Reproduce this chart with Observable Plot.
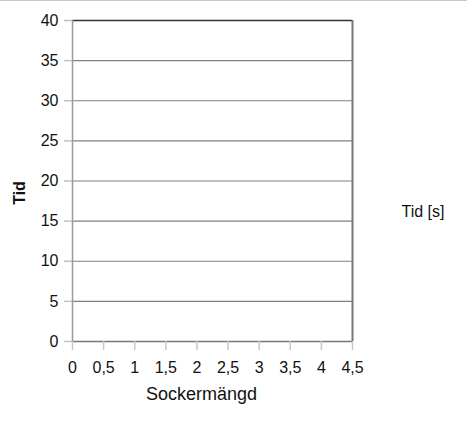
<!DOCTYPE html>
<html>
<head>
<meta charset="utf-8">
<script src="https://cdn.jsdelivr.net/npm/d3@7"></script>
<script src="https://cdn.jsdelivr.net/npm/@observablehq/plot@0.6"></script>
<style>
  html, body { margin: 0; padding: 0; background: #fff; }
  #wrap { position: relative; width: 467px; height: 422px; }
  #topline { position: absolute; left: 0; top: 0; width: 467px; height: 1px; background: #c8c8c8; }
  svg { font-family: "Liberation Sans", Arial, sans-serif; }
</style>
</head>
<body>
<div id="wrap"><div id="topline"></div></div>
<script>
const xTicks = [0, 0.5, 1, 1.5, 2, 2.5, 3, 3.5, 4, 4.5];
const yTicks = [0, 5, 10, 15, 20, 25, 30, 35, 40];
const xLabel = "Sockermängd";
const yLabel = "Tid";
const seriesName = "Tid [s]";
const seriesValues = []; // empty series

const fmt = d => String(d).replace(".", ",");

const chart = Plot.plot({
  width: 467,
  height: 422,
  marginLeft: 72,
  marginRight: 115,
  marginTop: 20,
  marginBottom: 81,
  style: { fontFamily: "Liberation Sans, Arial, sans-serif", background: "#fff" },
  x: { domain: [0, 4.5] },
  y: { domain: [0, 40] },
  marks: [
    Plot.ruleY(yTicks.filter(d => d > 0 && d < 40), { stroke: "#808080", strokeWidth: 1.2 }),
    Plot.ruleY([40], { stroke: "#333", strokeWidth: 1.3 }),
    Plot.ruleY([0], { stroke: "#777", strokeWidth: 1.5 }),
    Plot.ruleX([0], { stroke: "#999", strokeWidth: 1.5 }),
    Plot.ruleX([4.5], { stroke: "#777", strokeWidth: 2 }),
    Plot.axisY(yTicks, { tickSize: 8, tickPadding: 6, stroke: "#c0c0c0", strokeWidth: 1.5, fill: "#111", fontSize: 16, label: null, anchor: "left" }),
    Plot.axisX(xTicks, { tickSize: 9, tickPadding: 11, stroke: "#c8c8c8", strokeWidth: 1.5, fill: "#111", fontSize: 16, label: null, tickFormat: fmt, anchor: "bottom" }),
    Plot.dot(seriesValues, { x: "x", y: "y" }),
    Plot.text([xLabel], { frameAnchor: "bottom", lineAnchor: "middle", dx: -11, dy: 53, fontSize: 18, fill: "#111", textAnchor: "middle" }),
    Plot.text([yLabel], { frameAnchor: "left", dx: -53, dy: 12, rotate: -90, fontSize: 16, fontWeight: "bold", fill: "#111", textAnchor: "middle" }),
    Plot.text([seriesName], { frameAnchor: "right", dx: 49, dy: 31, fontSize: 16, fill: "#111", textAnchor: "start" })
  ]
});
document.getElementById("wrap").prepend(chart);
</script>
</body>
</html>
